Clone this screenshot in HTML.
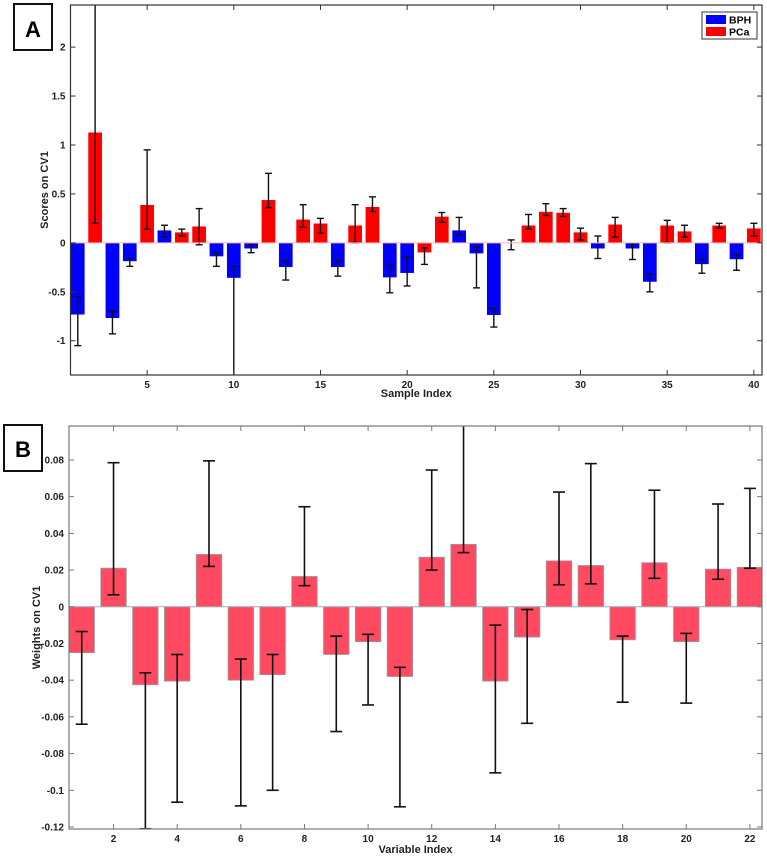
<!DOCTYPE html>
<html><head><meta charset="utf-8"><style>
body{margin:0;background:#fff;}
svg{display:block;font-family:"Liberation Sans",Arial,sans-serif;}
</style></head><body>
<svg id="s" width="767" height="857"></svg>
<script>
// Panel A data
const aIdx=[1,2,3,4,5,6,7,8,9,10,11,12,13,14,15,16,17,18,19,20,21,22,23,24,25,26,27,28,29,30,31,32,33,34,35,36,37,38,39,40];
const aVal=[-0.735,1.13,-0.77,-0.19,0.39,0.13,0.11,0.17,-0.14,-0.36,-0.06,0.44,-0.25,0.24,0.20,-0.25,0.18,0.37,-0.355,-0.31,-0.10,0.27,0.13,-0.11,-0.74,0.005,0.18,0.32,0.31,0.11,-0.06,0.19,-0.06,-0.40,0.18,0.12,-0.22,0.18,-0.17,0.15];
const aLow=[-1.05,0.2,-0.93,-0.24,0.14,0.06,0.07,-0.02,-0.24,-1.4,-0.10,0.36,-0.38,0.16,0.10,-0.34,0.0,0.32,-0.51,-0.44,-0.22,0.21,0.08,-0.46,-0.86,-0.07,0.14,0.28,0.27,0.03,-0.16,0.06,-0.17,-0.50,0.0,0.06,-0.31,0.15,-0.28,0.07];
const aHigh=[-0.55,2.6,-0.70,-0.16,0.95,0.18,0.14,0.35,-0.10,-0.24,-0.02,0.71,-0.18,0.39,0.25,-0.18,0.39,0.47,-0.23,-0.14,-0.05,0.31,0.26,-0.04,-0.67,0.03,0.29,0.40,0.35,0.15,0.07,0.26,-0.01,-0.32,0.23,0.18,-0.17,0.20,-0.12,0.20];
const aGroup=['B','P','B','B','P','B','P','P','B','B','B','P','B','P','P','B','P','P','B','B','P','P','B','B','B','P','P','P','P','P','B','P','B','B','P','P','B','P','B','P'];
const aYTicks=[-1,-0.5,0,0.5,1,1.5,2];
const aYLabels=['-1','-0.5','0','0.5','1','1.5','2'];
const aXTicks=[5,10,15,20,25,30,35,40];
// Panel B data
const bIdx=[1,2,3,4,5,6,7,8,9,10,11,12,13,14,15,16,17,18,19,20,21,22];
const bVal=[-0.025,0.021,-0.0425,-0.0405,0.0285,-0.040,-0.037,0.0165,-0.026,-0.019,-0.038,0.027,0.034,-0.0405,-0.0165,0.025,0.0225,-0.018,0.024,-0.019,0.0205,0.0215];
const bLow=[-0.064,0.0065,-0.121,-0.1065,0.022,-0.1085,-0.100,0.0115,-0.068,-0.0535,-0.109,0.020,0.0295,-0.0905,-0.0635,0.012,0.0125,-0.052,0.0155,-0.0525,0.015,0.021];
const bHigh=[-0.0135,0.0785,-0.036,-0.026,0.0795,-0.0285,-0.026,0.0545,-0.016,-0.015,-0.033,0.0745,0.099,-0.010,-0.0015,0.0625,0.078,-0.016,0.0635,-0.0145,0.056,0.0645];
const bYTicks=[-0.12,-0.1,-0.08,-0.06,-0.04,-0.02,0,0.02,0.04,0.06,0.08];
const bYLabels=['-0.12','-0.1','-0.08','-0.06','-0.04','-0.02','0','0.02','0.04','0.06','0.08'];
const bXTicks=[2,4,6,8,10,12,14,16,18,20,22];

const NS='http://www.w3.org/2000/svg';
const svg=document.getElementById('s');
function mk(tag,attrs,parent,txt){const e=document.createElementNS(NS,tag);for(const k in attrs)e.setAttribute(k,attrs[k]);if(txt!==undefined)e.textContent=txt;(parent||svg).appendChild(e);return e;}

function panel(cfg){
  const g=mk('g',{});
  
  
  const L=cfg.L,R=cfg.R,T=cfg.T,B=cfg.B;
  const xs=v=>L+(v-cfg.x0)/(cfg.x1-cfg.x0)*(R-L);
  const ys=v=>T+(cfg.y1-v)/(cfg.y1-cfg.y0)*(B-T);
  const clip='clip'+cfg.name;
  const cp=mk('clipPath',{id:clip},g);mk('rect',{x:L,y:T,width:R-L,height:B-T},cp);
  const pg=mk('g',{'clip-path':'url(#'+clip+')'},g);
  const hw=cfg.bw/2;
  for(let i=0;i<cfg.idx.length;i++){
    const x=cfg.idx[i],v=cfg.val[i];
    const y0=ys(0),yv=ys(v);
    const r=mk('rect',{x:xs(x-hw),y:Math.min(y0,yv),width:xs(x+hw)-xs(x-hw),height:Math.max(0.6,Math.abs(yv-y0)),fill:cfg.color(i),stroke:cfg.stroke,'stroke-width':cfg.sw},pg);
    
    
  }
  for(let i=0;i<cfg.idx.length;i++){
    const x=xs(cfg.idx[i]),yl=ys(cfg.low[i]),yh=ys(cfg.high[i]);
    const eg=mk('g',{stroke:'#111','stroke-width':cfg.ew},pg);
    
    
    mk('line',{x1:x,x2:x,y1:yl,y2:yh},eg);
    mk('line',{x1:x-cfg.cap,x2:x+cfg.cap,y1:yl,y2:yl},eg);
    mk('line',{x1:x-cfg.cap,x2:x+cfg.cap,y1:yh,y2:yh},eg);
  }
  mk('line',{x1:L,x2:R,y1:ys(0),y2:ys(0),stroke:cfg.zero,'stroke-width':1},pg);
  const ax=mk('rect',{x:L,y:T,width:R-L,height:B-T,fill:'none',stroke:cfg.axis,'stroke-width':1.2},g);
  
  cfg.yt.forEach((v,i)=>{
    const y=ys(v);
    mk('line',{x1:L,x2:L+5,y1:y,y2:y,stroke:cfg.axis},g);
    mk('line',{x1:R,x2:R-5,y1:y,y2:y,stroke:cfg.axis},g);
    const t=mk('text',{x:L-5,y:y+3.5,'text-anchor':'end','font-size':10,'font-weight':'bold',fill:'#222'},g,cfg.yl[i]);
    
  });
  cfg.xt.forEach(v=>{
    const x=xs(v);
    mk('line',{x1:x,x2:x,y1:B,y2:B-5,stroke:cfg.axis},g);
    mk('line',{x1:x,x2:x,y1:T,y2:T+5,stroke:cfg.axis},g);
    const t=mk('text',{x:x,y:B+13,'text-anchor':'middle','font-size':10,'font-weight':'bold',fill:'#222'},g,String(v));
    
  });
  const xt=mk('text',{x:(L+R)/2,y:cfg.xty,'text-anchor':'middle','font-size':11,'font-weight':'bold',fill:'#222'},g,cfg.xtitle);
  
  const yt=mk('text',{x:0,y:0,'text-anchor':'middle','font-size':11,'font-weight':'bold',fill:'#222',transform:`translate(${cfg.ytx},${(T+B)/2}) rotate(-90)`},g,cfg.ytitle);
  
  return g;
}

panel({name:'panel-a-chart',L:70.5,R:762,T:5,B:375,x0:0.58,x1:40.47,y0:-1.35,y1:2.43,idx:aIdx,val:aVal,low:aLow,high:aHigh,bw:0.82,
  color:i=>aGroup[i]==='B'?'#0000ff':'#ff0000',stroke:'#ffffff',sw:0.5,ew:1.4,cap:3.5,zero:'#ffb0b0',axis:'#333',
  yt:aYTicks,yl:aYLabels,xt:aXTicks,xtitle:'Sample Index',xty:397,ytitle:'Scores on CV1',ytx:48});
panel({name:'panel-b-chart',L:69,R:762,T:426,B:829,x0:0.6,x1:22.38,y0:-0.1211,y1:0.0985,idx:bIdx,val:bVal,low:bLow,high:bHigh,bw:0.8,
  color:i=>'#ff4a62',stroke:'#999',sw:0.8,ew:1.6,cap:6,zero:'#aaa',axis:'#777',
  yt:bYTicks,yl:bYLabels,xt:bXTicks,xtitle:'Variable Index',xty:853,ytitle:'Weights on CV1',ytx:40});

// legend
const lg=mk('g',{});


mk('rect',{x:702,y:12,width:55,height:27,fill:'#fff',stroke:'#333','stroke-width':1},lg);
const l1=mk('rect',{x:706,y:15,width:20,height:9,fill:'#0000ff'},lg);

mk('text',{x:729,y:23.5,'font-size':10.5,'font-weight':'bold'},lg,'BPH');
const l2=mk('rect',{x:706,y:27,width:20,height:9,fill:'#ff0000'},lg);

mk('text',{x:729,y:35.5,'font-size':10.5,'font-weight':'bold'},lg,'PCa');

// panel labels
const pa=mk('g',{});


mk('rect',{x:14,y:4,width:38,height:46,fill:'#fff',stroke:'#111','stroke-width':2},pa);
mk('text',{x:33,y:37,'text-anchor':'middle','font-size':22,'font-weight':'bold'},pa,'A');
const pb=mk('g',{});


mk('rect',{x:4,y:425,width:38,height:46,fill:'#fff',stroke:'#111','stroke-width':2},pb);
mk('text',{x:23,y:457,'text-anchor':'middle','font-size':22,'font-weight':'bold'},pb,'B');
</script>
</body></html>
